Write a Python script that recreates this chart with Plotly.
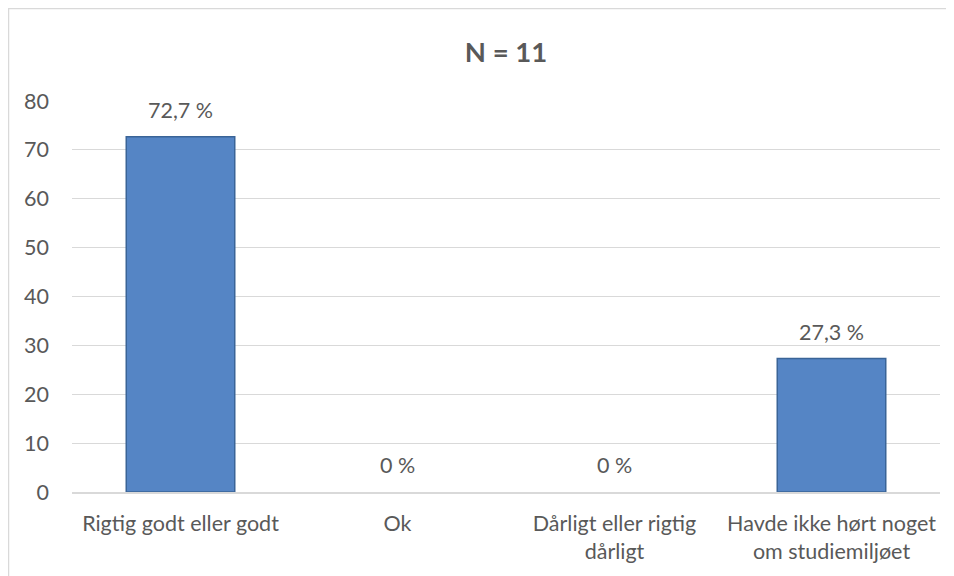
import plotly.graph_objects as go

categories = ["Rigtig godt eller godt", "Ok", "Dårligt eller rigtig<br>dårligt",
              "Havde ikke hørt noget<br>om studiemiljøet"]
values = [72.7, 0, 0, 27.3]
labels = ["72,7 %", "0 %", "0 %", "27,3 %"]
y_ticks = [0, 10, 20, 30, 40, 50, 60, 70, 80]

FONT = "Lato, Open Sans, sans-serif"
GRAY = "#595959"
FS = 21.5

# page body has an 8px margin, so the figure starts at (8, 8)
W, H = 946, 568
L, R, T, B = 64, 14, 93, 84
PW, PH = W - L - R, H - T - B

fig = go.Figure()
fig.add_trace(go.Bar(
    x=categories, y=values,
    marker=dict(color="#5585C5",
                line=dict(color="#3A6497", width=[1.5 if v > 0 else 0 for v in values])),
    width=0.5, hoverinfo="skip",
))

annotations = [dict(x=c, y=v, text=t, showarrow=False, yanchor="bottom", yshift=12,
                    font=dict(size=FS, color=GRAY, family=FONT))
               for c, v, t in zip(categories, values, labels)]

fig.update_layout(
    width=W, height=H,
    margin=dict(l=L, r=R, t=T, b=B),
    paper_bgcolor="white", plot_bgcolor="white",
    showlegend=False,
    title=dict(text="<b>N = 11</b>", x=(L + PW / 2) / W, xanchor="center",
               y=1 - (52 - 8) / H, yanchor="middle",
               font=dict(size=27.5, color=GRAY, family=FONT)),
    font=dict(family=FONT, color=GRAY, size=FS),
    xaxis=dict(showgrid=False, showline=True, linecolor="#D9D9D9", linewidth=1.5,
               tickfont=dict(size=FS, color=GRAY), ticks="", ticklabelstandoff=11),
    yaxis=dict(range=[0, 80], tickvals=y_ticks, showgrid=True, gridcolor="#D9D9D9",
               gridwidth=1.3, zeroline=False, tickfont=dict(size=FS, color=GRAY),
               ticks="", ticklabelstandoff=22),
    annotations=annotations,
    shapes=[dict(type="rect", xref="paper", yref="paper",
                 x0=(0.5 - L) / PW, x1=(W + 10 - L) / PW,
                 y0=-(B + 20) / PH, y1=(PH + T - 0.5) / PH,
                 line=dict(color="#D9D9D9", width=1.5), fillcolor="rgba(0,0,0,0)",
                 layer="below")],
)

fig.write_html("out.html")
